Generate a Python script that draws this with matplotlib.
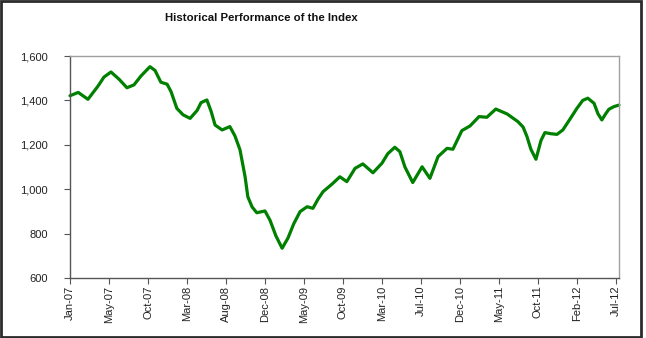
import matplotlib
matplotlib.use("Agg")
import matplotlib.pyplot as plt
from matplotlib.patches import Rectangle

plt.rcParams['font.family'] = ['Liberation Sans', 'DejaVu Sans']

# x tick labels (evenly spaced categories on the axis)
tick_labels = ["Jan-07", "May-07", "Oct-07", "Mar-08", "Aug-08", "Dec-08", "May-09",
               "Oct-09", "Mar-10", "Jul-10", "Dec-10", "May-11", "Oct-11", "Feb-12", "Jul-12"]

# position along the time axis, in tick intervals (Jan-07 = 0, Jul-12 = 14)
period = [0.00, 0.21, 0.46, 0.72, 0.87, 1.05, 1.26, 1.46, 1.64, 1.82,
          2.05, 2.18, 2.33, 2.49, 2.59, 2.74, 2.90, 3.08, 3.26, 3.36,
          3.51, 3.62, 3.72, 3.90, 4.10, 4.23, 4.36, 4.49, 4.56, 4.67,
          4.79, 5.00, 5.13, 5.28, 5.44, 5.59, 5.74, 5.90, 6.08, 6.23,
          6.36, 6.49, 6.72, 6.92, 7.10, 7.31, 7.51, 7.77, 8.00, 8.15,
          8.33, 8.46, 8.59, 8.79, 9.03, 9.23, 9.44, 9.67, 9.82, 10.05,
          10.26, 10.49, 10.69, 10.92, 11.21, 11.49, 11.62, 11.72, 11.82, 11.95,
          12.08, 12.18, 12.33, 12.49, 12.64, 12.82, 13.00, 13.15, 13.28, 13.44,
          13.54, 13.64, 13.74, 13.82, 13.95, 14.08]

index_level = [1421, 1436, 1405, 1465, 1505, 1528, 1495, 1457, 1470, 1510,
               1552, 1535, 1482, 1473, 1440, 1364, 1335, 1319, 1355, 1390,
               1402, 1350, 1289, 1267, 1282, 1240, 1177, 1056, 966, 920,
               894, 902, 860, 790, 734, 780, 845, 899, 921, 914,
               955, 989, 1023, 1056, 1034, 1094, 1114, 1074, 1117, 1160,
               1189, 1169, 1100, 1030, 1101, 1049, 1147, 1184, 1180, 1264,
               1285, 1327, 1324, 1361, 1339, 1304, 1280, 1237, 1180, 1135,
               1220, 1255, 1250, 1247, 1267, 1315, 1364, 1400, 1410, 1387,
               1340, 1312, 1340, 1360, 1372, 1379]

y_ticks = [600, 800, 1000, 1200, 1400, 1600]

fig = plt.figure(figsize=(6.46, 3.38), dpi=100)
ax = fig.add_axes([0.1084, 0.1775, 0.8498, 0.6568])

ax.plot(period, index_level, color="#008000", linewidth=2.3,
        solid_joinstyle="round", solid_capstyle="round", clip_on=False)

ax.set_xlim(0, 14.08)
ax.set_ylim(600, 1600)
ax.set_yticks(y_ticks)
ax.set_yticklabels(["{:,}".format(v) for v in y_ticks])
ax.set_xticks(range(len(tick_labels)))
ax.set_xticklabels(tick_labels, rotation=90)

ax.tick_params(axis="both", direction="out", length=4, width=0.8,
               color="#555555", labelcolor="#222222")
ax.tick_params(axis="x", labelsize=8, pad=1.5)
ax.tick_params(axis="y", labelsize=8, pad=12)

for side in ["left", "bottom"]:
    ax.spines[side].set_color("#555555")
    ax.spines[side].set_linewidth(1.0)
for side in ["top", "right"]:
    ax.spines[side].set_color("#a0a0a0")
    ax.spines[side].set_linewidth(1.0)

fig.text(0.404, 0.948, "Historical Performance of the Index", ha="center", va="center",
         fontsize=8.2, fontweight="bold", color="#111111")

# dark frame around the chart area
fig.patches.append(Rectangle((0.002, 0.004), 0.99, 0.992, transform=fig.transFigure,
                             fill=False, edgecolor="#2b2b2b", linewidth=2.0))

fig.savefig("out.png", dpi=100)
